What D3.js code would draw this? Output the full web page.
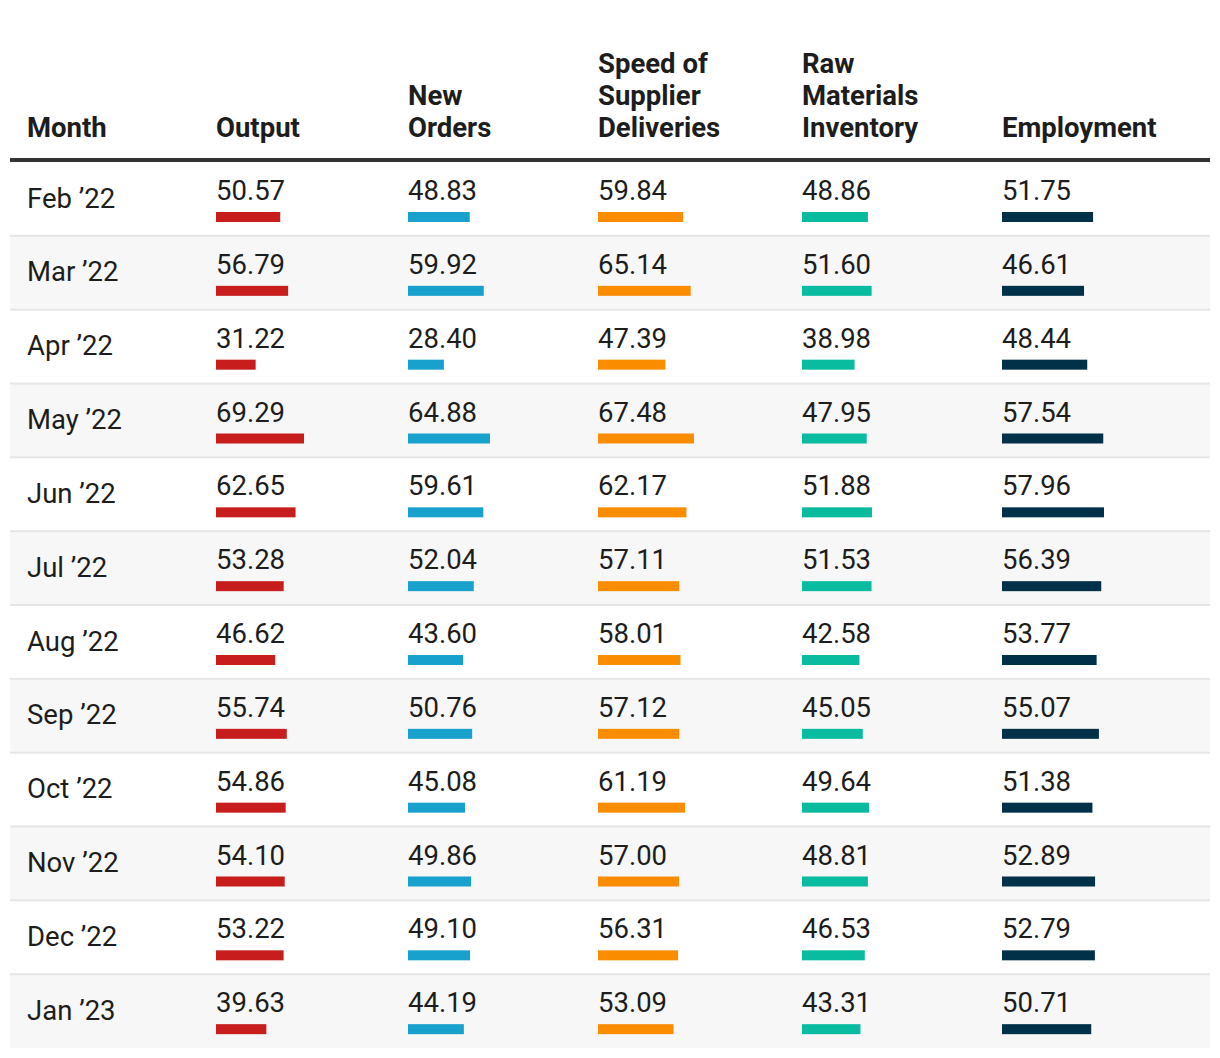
<!DOCTYPE html>
<html>
<head>
<meta charset="utf-8">
<script src="https://cdn.jsdelivr.net/npm/d3@7"></script>
<style>
  html, body { margin: 0; padding: 0; background: #fff; }
  svg { display: block; font-family: Roboto, "Noto Sans", sans-serif; }
</style>
</head>
<body>
<svg id="chart" width="1220" height="1058"></svg>
<script>
const months = ["Feb ’22","Mar ’22","Apr ’22","May ’22","Jun ’22","Jul ’22","Aug ’22","Sep ’22","Oct ’22","Nov ’22","Dec ’22","Jan ’23"];
const output = [50.57,56.79,31.22,69.29,62.65,53.28,46.62,55.74,54.86,54.10,53.22,39.63];
const newOrders = [48.83,59.92,28.40,64.88,59.61,52.04,43.60,50.76,45.08,49.86,49.10,44.19];
const supplierSpeed = [59.84,65.14,47.39,67.48,62.17,57.11,58.01,57.12,61.19,57.00,56.31,53.09];
const rawMaterials = [48.86,51.60,38.98,47.95,51.88,51.53,42.58,45.05,49.64,48.81,46.53,43.31];
const employment = [51.75,46.61,48.44,57.54,57.96,56.39,53.77,55.07,51.38,52.89,52.79,50.71];
const columnHeaders = [["Month"],["Output"],["New","Orders"],["Speed of","Supplier","Deliveries"],["Raw","Materials","Inventory"],["Employment"]];

// styling config
const seriesList = [output, newOrders, supplierSpeed, rawMaterials, employment];
const colors = ["#c71e1d","#18a1cd","#fa8c00","#09bb9f","#003149"];
const colX = [27, 216, 408, 598, 802, 1002];
const maxBar = [88, 82, 96, 70, 102];

const svg = d3.select("#chart");
const left = 10, right = 1210;
const headerLineY = 160;
const rowTop = 162, rowBottom = 1048;
const fs = 27.5;

const y = d3.scaleBand().domain(d3.range(months.length)).range([rowTop, rowBottom]).padding(0);
const fmt = d3.format(".2f");

// row backgrounds
svg.append("g").selectAll("rect").data(months).join("rect")
  .attr("x", left).attr("width", right - left)
  .attr("y", (d,i) => y(i)).attr("height", y.bandwidth())
  .attr("fill", (d,i) => i % 2 ? "#f7f7f7" : "#ffffff");

// row separators
svg.append("g").selectAll("rect").data(months.slice(1)).join("rect")
  .attr("x", left).attr("width", right - left)
  .attr("y", (d,i) => y(i + 1) - 1).attr("height", 2)
  .attr("fill", "#e6e6e6");

// header
const hdr = svg.append("g");
columnHeaders.forEach((lines, c) => {
  const t = hdr.append("text").attr("x", colX[c]).attr("font-weight", 700)
    .attr("font-size", fs).attr("fill", "#1d1d1d");
  lines.forEach((ln, k) => {
    t.append("tspan").attr("x", colX[c]).attr("y", 137 - (lines.length - 1 - k) * 32).text(ln);
  });
});
svg.append("rect").attr("x", left).attr("width", right - left).attr("y", headerLineY - 2).attr("height", 4).attr("fill", "#333333");

// month labels
svg.append("g").selectAll("text").data(months).join("text")
  .attr("x", colX[0]).attr("y", (d,i) => y(i) + 45.5)
  .attr("font-size", fs).attr("fill", "#1d1d1d").text(d => d);

// value columns
seriesList.forEach((vals, s) => {
  const xs = d3.scaleLinear().domain([0, d3.max(vals)]).range([0, maxBar[s]]);
  const g = svg.append("g");
  g.selectAll("text").data(vals).join("text")
    .attr("x", colX[s + 1]).attr("y", (d,i) => y(i) + 38)
    .attr("font-size", fs).attr("fill", "#1d1d1d").text(d => fmt(d));
  g.selectAll("rect").data(vals).join("rect")
    .attr("x", colX[s + 1]).attr("y", (d,i) => y(i) + 50)
    .attr("height", 10).attr("width", d => xs(d))
    .attr("fill", colors[s]);
});
</script>
</body>
</html>
